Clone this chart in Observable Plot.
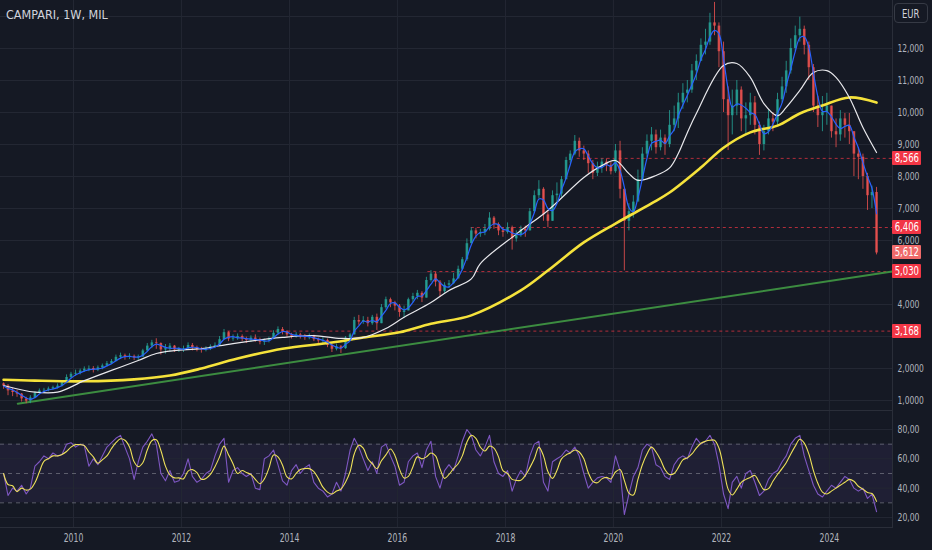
<!DOCTYPE html>
<html><head><meta charset="utf-8">
<script src="https://cdn.jsdelivr.net/npm/d3@7"></script>
<script src="https://cdn.jsdelivr.net/npm/@observablehq/plot@0.6"></script>
<style>
html,body{margin:0;padding:0;background:#151924;}
#wrap{position:relative;width:932px;height:550px;overflow:hidden;background:#151924;font-family:"Liberation Sans Narrow","DejaVu Sans Condensed",Roboto,sans-serif;}
#price{position:absolute;left:0;top:0;}
#rsi{position:absolute;left:0;top:410px;}
.title{position:absolute;left:6px;top:7px;color:#d1d4dc;font-size:12.5px;}
.eur{position:absolute;left:894px;top:3px;width:34px;height:20px;border:1px solid #363a45;border-radius:4px;color:#d1d4dc;font-size:11.5px;line-height:20px;text-align:center;box-sizing:border-box;}
.eur span,.lvl span{display:inline-block;transform:scaleX(0.82);}
.lvl{position:absolute;left:892px;width:29px;height:14px;line-height:14px;color:#fff;font-size:11.5px;text-align:center;border-radius:1px;white-space:nowrap;}
</style></head>
<body>
<div id="wrap">
  <div id="price"></div>
  <div id="rsi"></div>
  <div class="title">CAMPARI, 1W, MIL</div>
  <div class="eur"><span>EUR</span></div>
</div>
<script>
// ---- monthly candles, Sep 2008 .. Nov 2024 ----
const startYear = 2008, startMonth = 9;
const firstOpen = 1.52;
const closes = [
 1.45,1.30,1.25,1.20,
 1.05,0.98,1.08,1.22,1.30,1.32,1.36,1.40,1.45,1.55,1.72,1.82,
 1.85,1.92,1.98,2.00,1.95,2.02,2.08,2.15,2.22,2.35,2.40,2.36,
 2.38,2.33,2.36,2.55,2.70,2.80,2.78,2.58,2.62,2.70,2.58,2.60,
 2.62,2.72,2.65,2.60,2.58,2.62,2.68,2.72,2.90,3.12,2.92,2.95,
 3.00,2.92,2.88,2.95,2.90,2.82,2.86,2.92,3.10,3.22,3.15,3.05,
 3.00,3.05,3.00,2.96,3.02,2.90,2.86,2.88,2.72,2.60,2.68,2.62,
 2.95,3.05,3.50,3.45,3.50,3.40,3.60,3.40,3.90,4.15,4.05,3.95,
 3.75,3.80,4.15,4.25,4.35,4.20,4.75,4.95,4.70,4.40,4.60,4.65,
 4.80,5.10,5.40,5.90,6.30,6.20,6.25,6.35,6.70,6.50,6.30,6.25,
 6.40,6.05,6.15,6.35,6.30,6.90,7.40,7.60,6.80,6.60,7.40,7.45,
 7.90,8.50,8.70,9.10,8.80,8.70,8.40,8.10,8.30,8.45,8.35,8.15,
 8.80,7.60,6.60,6.90,7.20,7.90,8.70,9.10,9.30,8.90,9.20,9.00,
 9.60,9.80,10.30,10.60,10.70,11.30,11.60,12.10,12.20,12.80,12.70,11.90,
 10.40,9.90,10.20,10.70,9.80,9.90,10.30,9.60,9.00,9.40,9.80,9.70,
 10.40,10.80,11.30,12.00,12.40,12.60,12.10,11.40,10.20,9.90,10.00,10.20,
 9.40,9.30,9.80,9.60,9.40,8.70,8.60,8.00,7.40,7.50,5.61
];
const highs = [
 1.55,1.50,1.38,1.32,
 1.22,1.10,1.15,1.28,1.36,1.38,1.42,1.45,1.52,1.62,1.80,1.88,
 1.95,1.98,2.05,2.08,2.06,2.08,2.14,2.22,2.28,2.42,2.48,2.45,
 2.46,2.42,2.42,2.60,2.78,2.88,2.93,2.80,2.75,2.78,2.72,2.66,
 2.70,2.80,2.78,2.70,2.66,2.68,2.74,2.80,3.00,3.22,3.15,3.05,
 3.08,3.05,2.98,3.02,3.05,2.95,2.92,2.98,3.18,3.30,3.28,3.18,
 3.10,3.12,3.10,3.06,3.08,3.04,2.95,2.96,2.92,2.75,2.76,2.72,
 3.00,3.10,3.60,3.66,3.62,3.60,3.66,3.70,4.00,4.23,4.20,4.10,
 4.00,3.95,4.20,4.35,4.44,4.40,4.85,5.06,5.00,4.75,4.68,4.75,
 4.97,5.20,5.47,6.05,6.40,6.38,6.35,6.50,6.87,6.75,6.55,6.40,
 6.55,6.45,6.30,6.45,6.45,7.00,7.55,7.87,7.65,6.90,7.55,7.80,
 8.00,8.60,8.80,9.28,9.20,8.95,8.80,8.50,8.45,8.55,8.55,8.45,
 9.00,9.10,7.60,7.15,7.40,8.20,8.90,9.30,9.53,9.45,9.45,9.30,
 10.06,10.20,10.60,10.90,11.00,11.50,11.80,12.30,12.60,13.10,13.44,12.80,
 12.20,10.80,10.70,11.00,10.80,10.30,10.60,10.50,9.70,9.60,10.10,10.00,
 10.60,11.10,11.60,12.30,12.70,12.98,12.70,12.20,11.50,10.50,10.50,10.60,
 10.20,9.80,10.06,9.97,9.97,9.40,8.90,8.70,8.10,7.70,7.66
];
const lows = [
 1.35,1.15,1.12,1.10,
 0.95,0.90,0.90,1.05,1.20,1.25,1.27,1.32,1.36,1.42,1.52,1.68,
 1.76,1.80,1.88,1.90,1.86,1.90,1.96,2.05,2.12,2.20,2.28,2.26,
 2.28,2.25,2.24,2.35,2.52,2.62,2.60,2.42,2.45,2.52,2.50,2.50,
 2.50,2.58,2.55,2.52,2.48,2.52,2.56,2.62,2.70,2.90,2.84,2.85,
 2.88,2.84,2.78,2.82,2.82,2.74,2.72,2.80,2.90,3.05,3.05,2.98,
 2.92,2.95,2.92,2.88,2.90,2.84,2.78,2.78,2.65,2.50,2.55,2.47,
 2.60,2.92,3.05,3.35,3.38,3.30,3.35,3.19,3.40,3.85,3.90,3.80,
 3.60,3.56,3.80,4.06,4.15,4.06,4.20,4.70,4.55,4.22,4.35,4.50,
 4.62,4.80,5.05,5.35,5.90,6.05,6.10,6.15,6.30,6.35,6.15,6.10,
 6.20,5.70,5.95,6.10,6.10,6.30,6.85,7.30,6.60,6.40,6.60,7.20,
 7.35,7.90,8.40,8.65,8.60,8.50,8.10,7.90,8.00,8.10,8.15,8.05,
 8.10,7.30,5.05,6.30,6.70,7.25,7.90,8.60,8.80,8.70,8.80,8.66,
 8.90,9.40,9.50,10.10,10.30,10.60,11.00,11.60,11.80,12.10,12.40,11.40,
 10.00,8.81,9.30,9.90,9.40,9.30,9.60,9.30,8.66,8.80,9.30,9.40,
 9.60,10.30,10.60,11.20,11.90,12.20,11.80,11.00,10.00,9.53,9.40,9.60,
 9.20,8.90,9.10,9.20,9.00,8.00,7.90,7.60,6.94,7.00,5.55
];
// ---- RSI (14), monthly readings ----
const rsiValues = [
 50,35,40,38,
 42,36,40,55,58,62,60,64,62,63,70,71,
 68,70,69,55,60,56,62,68,71,74,76,68,
 60,46,58,68,72,77,70,50,45,52,44,45,
 50,60,48,44,46,50,52,62,70,74,44,52,
 54,50,48,50,40,39,60,62,66,56,45,42,
 52,56,50,54,56,44,40,38,34,36,44,38,
 50,66,74,68,60,52,58,50,68,70,62,55,
 42,44,58,62,64,54,66,72,48,40,52,56,
 52,62,72,80,76,66,62,68,76,58,50,48,
 52,38,46,52,48,62,70,72,44,38,58,60,
 62,66,64,68,62,50,40,44,47,48,47,44,
 62,52,22,36,48,54,66,70,68,56,54,48,
 46,56,60,62,60,68,74,70,72,76,70,56,
 36,26,44,48,40,50,52,44,35,38,46,50,
 52,58,62,70,74,76,62,52,42,36,34,38,
 42,40,44,48,46,40,38,40,33,36,24
];
// ---- moving averages ----
const whiteDates = ["2008-09","2009-04","2009-09","2010-03","2010-09","2011-03","2011-07","2011-11","2012-05","2012-12","2013-11","2014-06","2014-12","2015-05","2015-10","2016-02","2016-08","2016-12","2017-05","2017-07","2018-03","2018-10","2019-06","2019-10","2020-01","2020-04","2020-06","2020-10","2021-01","2021-03","2021-05","2021-07","2022-01","2022-04","2022-07","2022-10","2023-01","2023-03","2023-06","2023-09","2023-12","2024-02","2024-05","2024-08","2024-11"];
const whiteValues = [1.47,1.26,1.26,1.62,1.94,2.25,2.47,2.56,2.62,2.78,2.97,3.03,2.94,2.97,3.25,3.60,4.06,4.44,4.80,5.28,6.20,6.94,7.97,8.34,8.50,8.09,7.88,8.03,8.27,8.72,9.37,9.97,11.47,11.53,11.10,10.28,9.90,10.16,10.69,11.25,11.31,11.10,10.47,9.53,8.75];
const yellowDates = ["2008-09","2009-04","2010-03","2011-02","2011-10","2012-05","2013-01","2013-11","2014-10","2015-05","2016-01","2016-08","2017-05","2018-04","2018-10","2019-06","2020-01","2020-09","2021-01","2021-08","2022-01","2022-07","2023-01","2023-06","2023-11","2024-05","2024-11"];
const yellowValues = [1.65,1.62,1.60,1.66,1.78,2.00,2.31,2.62,2.81,2.97,3.13,3.40,3.66,4.44,5.06,5.94,6.53,7.16,7.50,8.28,8.90,9.38,9.59,9.97,10.22,10.47,10.31];
const trendDates = ["2008-12-20","2025-03-01"];
const trendValues = [0.90,5.03];
// ---- horizontal levels ----
const levelValues = [8.566,6.406,5.030,3.168];
const levelLabels = ["8,566","6,406","5,030","3,168"];
const levelStarts = ["2019-05-01","2017-05-15","2016-07-25","2012-11-10"];
const lastPrice = 5.612, lastPriceLabel = "5,612";
// ---- axes ----
const priceTicks = [12,11,10,9,8,7,6,4,2,1];
const priceTickLabels = ["12,000","11,000","10,000","9,000","8,000","7,000","6,000","4,000","2,0000","1,0000"];
const priceGrid = [1,2,3,4,5,6,7,8,9,10,11,12,13];
const rsiTicks = [80,60,40,20];
const rsiTickLabels = ["80,00","60,00","40,00","20,00"];
const rsiDashed = [70,50,30];
const rsiBandLow = 30, rsiBandHigh = 70;
const yearTicks = [2010,2012,2014,2016,2018,2020,2022,2024];

// ---- build tables ----
function frac(f){const y=Math.floor(f);const s=Date.UTC(y,0,1),e=Date.UTC(y+1,0,1);return new Date(s+(f-y)*(e-s));}
function ym(s){const p=s.split("-").map(Number);return new Date(Date.UTC(p[0],p[1]-1,p[2]||15));}
const xDomain=[frac(2008.648),frac(2025.167)];
const candles = closes.map((c,i)=>({
  date:new Date(Date.UTC(startYear,startMonth-1+i,15)),
  open:i?closes[i-1]:firstOpen, close:c, high:highs[i], low:lows[i]
}));
const UP="#26a69a", DN="#ef5350";
const white = whiteDates.map((d,i)=>({date:ym(d),v:whiteValues[i]}));
const yellow = yellowDates.map((d,i)=>({date:ym(d),v:yellowValues[i]}));
const trend = trendDates.map((d,i)=>({date:ym(d),v:trendValues[i]}));
const levels = levelValues.map((v,i)=>({v,start:ym(levelStarts[i])}));
const rsi = rsiValues.map((v,i)=>({date:candles[i].date,v}));
const yearDates = yearTicks.map(y=>new Date(Date.UTC(y,0,1)));
const pLab = new Map(priceTicks.map((t,i)=>[t,priceTickLabels[i]]));
const rLab = new Map(rsiTicks.map((t,i)=>[t,rsiTickLabels[i]]));
const GRID="#232733", TXT="#b2b5be", FONT='"Liberation Sans Narrow","DejaVu Sans Condensed",Roboto,sans-serif';

const price = Plot.plot({
  width:932,height:410,marginLeft:0,marginRight:40,marginTop:0,marginBottom:0,
  style:{background:"transparent",color:TXT,fontFamily:FONT,fontSize:"10.5px"},
  x:{type:"utc",domain:xDomain,axis:null},
  y:{domain:[0.6875,13.5],axis:null},
  marks:[
    Plot.gridY(priceGrid,{stroke:GRID,strokeOpacity:1}),
    Plot.gridX(yearDates,{stroke:GRID,strokeOpacity:1}),
    Plot.ruleY(levels,{y:"v",x1:"start",x2:()=>xDomain[1],stroke:"#f23645",strokeOpacity:0.7,strokeDasharray:"3,3"}),
    Plot.line(trend,{x:"date",y:"v",stroke:"#3c8c40",strokeWidth:2}),
    Plot.ruleX(candles,{x:"date",y1:"low",y2:"high",stroke:d=>d.close>=d.open?UP:DN,strokeWidth:1,strokeOpacity:0.8}),
    Plot.ruleX(candles,{x:"date",y1:"open",y2:"close",stroke:d=>d.close>=d.open?UP:DN,strokeWidth:2.6,strokeOpacity:0.8}),
    Plot.line(yellow,{x:"date",y:"v",curve:"catmull-rom",stroke:"#f5e23b",strokeWidth:2.6}),
    Plot.line(white,{x:"date",y:"v",curve:"catmull-rom",stroke:"#e8e8ec",strokeWidth:1.2}),
    Plot.lineY(candles,Plot.windowY({k:3,anchor:"end",reduce:"mean"},{x:"date",y:"close",curve:"catmull-rom",stroke:"#2962ff",strokeWidth:1.2})),
    Plot.axisY(priceTicks,{anchor:"right",tickSize:0,tickPadding:5,tickFormat:d=>pLab.get(d),fill:TXT}),
    Plot.frame({anchor:"right",stroke:"#2a2e39"})
  ]
});
document.getElementById("price").append(price);

const rsiChart = Plot.plot({
  width:932,height:140,marginLeft:0,marginRight:40,marginTop:0,marginBottom:23,
  style:{background:"transparent",color:TXT,fontFamily:FONT,fontSize:"10.5px"},
  x:{type:"utc",domain:xDomain,axis:null},
  y:{domain:[13.18,92.95],axis:null},
  marks:[
    Plot.rect([{y1:rsiBandLow,y2:rsiBandHigh}],{y1:"y1",y2:"y2",fill:"#7e57c2",fillOpacity:0.1}),
    Plot.gridY(rsiTicks,{stroke:GRID,strokeOpacity:1}),
    Plot.gridX(yearDates,{stroke:GRID,strokeOpacity:1}),
    Plot.ruleY(rsiDashed,{stroke:"#787b86",strokeOpacity:0.7,strokeDasharray:"4,4"}),
    Plot.line(rsi,{x:"date",y:"v",stroke:"#7e57c2",strokeWidth:1.1}),
    Plot.lineY(rsi,Plot.windowY({k:3,anchor:"end",reduce:"mean"},{x:"date",y:"v",curve:"catmull-rom",stroke:"#eee15a",strokeWidth:1.1})),
    Plot.axisY(rsiTicks,{anchor:"right",tickSize:0,tickPadding:5,tickFormat:d=>rLab.get(d),fill:TXT}),
    Plot.axisX(yearDates,{tickSize:0,tickPadding:6,tickFormat:"%Y",fill:TXT,fontSize:11.5}),
    Plot.frame({anchor:"top",stroke:"#2a2e39"}),
    Plot.frame({anchor:"bottom",stroke:"#2a2e39"}),
    Plot.frame({anchor:"right",stroke:"#2a2e39"})
  ]
});
document.getElementById("rsi").append(rsiChart);

// narrow the tick labels to the condensed look of the reference
function squeeze(svg, sel, perChar){
  svg.querySelectorAll(sel + " text").forEach(t=>{
    const s=t.textContent;
    t.setAttribute("textLength", (s.length*perChar).toFixed(1));
    t.setAttribute("lengthAdjust","spacingAndGlyphs");
  });
}
squeeze(price,'g[aria-label="y-axis tick label"]',4.4);
squeeze(rsiChart,'g[aria-label="y-axis tick label"]',4.4);
squeeze(rsiChart,'g[aria-label="x-axis tick label"]',4.9);

// price labels on the right scale, positioned with the plot's y scale
const ys = price.scale("y");
const wrap = document.getElementById("wrap");
function tag(v,txt,bg){
  const d=document.createElement("div");d.className="lvl";d.style.background=bg;
  const s=document.createElement("span");s.textContent=txt;d.append(s);
  d.style.top=(ys.apply(v)-7)+"px";wrap.append(d);
}
levelValues.forEach((v,i)=>tag(v,levelLabels[i],"#f23645"));
tag(lastPrice,lastPriceLabel,"#f06a6a");
</script>
</body></html>
